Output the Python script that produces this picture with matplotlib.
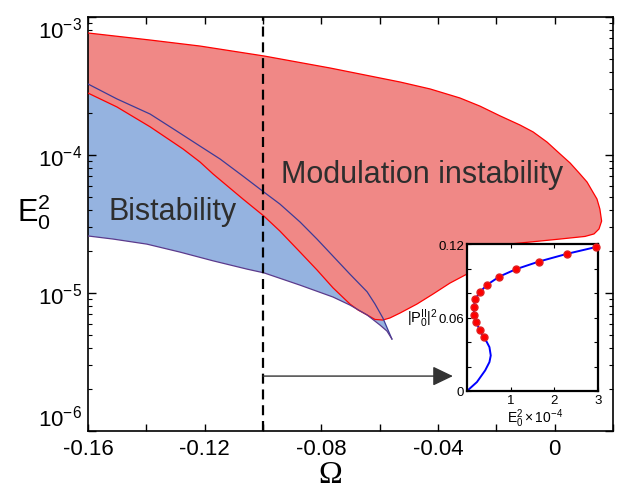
import numpy as np
import matplotlib
matplotlib.use("Agg")
import matplotlib.pyplot as plt
from matplotlib.ticker import MultipleLocator, FixedLocator

plt.rcParams["font.family"] = ["Liberation Sans", "DejaVu Sans"]
plt.rcParams["mathtext.fontset"] = "custom"
plt.rcParams["mathtext.rm"] = "Liberation Sans"
plt.rcParams["mathtext.it"] = "Liberation Sans:italic"
plt.rcParams["mathtext.bf"] = "Liberation Sans:bold"

# -----------------------------
# Data
# -----------------------------
# modulation instability region: upper edge, left to right, round the tip
mi_top_omega = [-0.16, -0.1387, -0.1216, -0.0997, -0.0770, -0.0530, -0.0427, -0.0325,
                -0.0256, -0.0187, -0.0119, -0.0074, -0.0026, 0.0018, 0.0053, 0.0087,
                0.0111, 0.0131, 0.0145, 0.0155, 0.0161, 0.0152, 0.0135, 0.0104]
mi_top_e2 = [7.66e-4, 6.81e-4, 6.16e-4, 5.22e-4, 4.27e-4, 3.38e-4, 3.01e-4, 2.59e-4,
             2.26e-4, 1.92e-4, 1.65e-4, 1.47e-4, 1.24e-4, 1.02e-4, 8.75e-5, 7.28e-5,
             6.37e-5, 5.39e-5, 4.80e-5, 4.06e-5, 3.32e-5, 2.91e-5, 2.68e-5, 2.57e-5]
# lower edge, right to left, down to the bump and up the inner red line
mi_low_omega = [0.0018, -0.0085, -0.0187, -0.0222, -0.0263, -0.0301, -0.0359, -0.0417,
                -0.0472, -0.0530, -0.0565, -0.0589, -0.0616, -0.0643, -0.0674, -0.0702,
                -0.0760, -0.0815, -0.0873, -0.0942, -0.0997, -0.1069, -0.1171, -0.1216,
                -0.1274, -0.1387, -0.1501, -0.16]
mi_low_e2 = [2.46e-5, 2.34e-5, 2.23e-5, 1.95e-5, 1.62e-5, 1.37e-5, 1.18e-5, 9.83e-6,
             8.32e-6, 7.16e-6, 6.59e-6, 6.37e-6, 6.43e-6, 6.93e-6, 7.53e-6, 8.32e-6,
             1.09e-5, 1.47e-5, 1.98e-5, 2.81e-5, 3.61e-5, 4.80e-5, 7.28e-5, 8.90e-5,
             1.105e-4, 1.60e-4, 2.23e-4, 2.81e-4]

# bistability region
bi_up_omega = [-0.16, -0.1501, -0.1387, -0.1302, -0.1216, -0.1147, -0.1069, -0.0997,
               -0.0942, -0.0873, -0.0815, -0.0760, -0.0702, -0.0643, -0.0616, -0.0589,
               -0.0558]
bi_up_e2 = [3.27e-4, 2.55e-4, 1.98e-4, 1.52e-4, 1.16e-4, 9.35e-5, 7.04e-5, 5.39e-5,
            4.41e-5, 3.27e-5, 2.46e-5, 1.85e-5, 1.37e-5, 1.02e-5, 8.32e-6, 6.59e-6,
            4.64e-6]
bi_low_omega = [-0.16, -0.1514, -0.1398, -0.1285, -0.1171, -0.1055, -0.0997, -0.0873,
                -0.0760, -0.0702, -0.0643, -0.0599, -0.0575, -0.0558]
bi_low_e2 = [2.59e-5, 2.46e-5, 2.26e-5, 1.98e-5, 1.71e-5, 1.49e-5, 1.40e-5, 1.14e-5,
             9.35e-6, 8.18e-6, 6.93e-6, 5.86e-6, 5.30e-6, 4.64e-6]

OMEGA_CUT = -0.10
ARROW_E2 = 2.5e-6
ARROW_END = -0.0349

# inset: |P0|^2 against E0^2 (x 1e-4)
inset_e2 = [0.0, 0.227, 0.416, 0.514, 0.544, 0.514, 0.453, 0.378, 0.287, 0.211, 0.166,
            0.151, 0.189, 0.287, 0.469, 0.741, 1.119, 1.640, 2.283, 2.963, 3.0]
inset_p2 = [0.0, 0.0073, 0.0168, 0.0236, 0.029, 0.0358, 0.040, 0.044, 0.050, 0.0562,
            0.0622, 0.0684, 0.0747, 0.0806, 0.0869, 0.0934, 0.0994, 0.1056, 0.1119,
            0.1176, 0.1178]
dots_e2 = [0.378, 0.287, 0.211, 0.166, 0.151, 0.189, 0.287, 0.469, 0.741, 1.119,
           1.640, 2.283, 2.963]
dots_p2 = [0.044, 0.050, 0.0562, 0.0622, 0.0684, 0.0747, 0.0806, 0.0869, 0.0934,
           0.0994, 0.1056, 0.1119, 0.1176]

RED_FILL = "#f08886"
BLUE_FILL = "#95b3e0"

# -----------------------------
# Main axes
# -----------------------------
fig = plt.figure(figsize=(6.18, 4.89), dpi=100)
ax = fig.add_axes([88 / 618, 1 - 432 / 489, 525 / 618, 414 / 489])

bi_x = bi_up_omega + bi_low_omega[::-1]
bi_y = bi_up_e2 + bi_low_e2[::-1]
ax.fill(bi_x, bi_y, color=BLUE_FILL, lw=0, zorder=1)

mi_x = mi_top_omega + mi_low_omega
mi_y = mi_top_e2 + mi_low_e2
ax.fill(mi_x, mi_y, color=RED_FILL, lw=0, zorder=2)
ax.plot(mi_x, mi_y, color="red", lw=0.9, zorder=3)

ax.plot(bi_up_omega, bi_up_e2, color="#3b3b98", lw=0.9, zorder=4)
ax.plot(bi_low_omega, bi_low_e2, color="#5b3a8c", lw=0.9, zorder=4)

ax.axvline(OMEGA_CUT, color="black", lw=1.6, ls=(0, (4.5, 2.6)), zorder=5)
ax.annotate("", xy=(ARROW_END, ARROW_E2), xytext=(OMEGA_CUT, ARROW_E2),
            arrowprops=dict(arrowstyle="-|>,head_length=1.25,head_width=0.6",
                            mutation_scale=10, color="#333333", lw=1.0,
                            shrinkA=0, shrinkB=0), zorder=6)

ax.text(-0.0455, 7.28e-5, "Modulation instability", fontsize=22, color="#2e2e2e",
        ha="center", va="center", zorder=6)
ax.text(-0.1309, 3.93e-5, "Bistability", fontsize=22, color="#2e2e2e",
        ha="center", va="center", zorder=6)

ax.set_yscale("log")
ax.set_xlim(-0.16, 0.02)
ax.set_ylim(1e-6, 1e-3)
ax.xaxis.set_major_locator(FixedLocator([-0.16, -0.12, -0.08, -0.04, 0.0]))
ax.xaxis.set_minor_locator(MultipleLocator(0.02))
ax.set_xticklabels(["-0.16", "-0.12", "-0.08", "-0.04", "0"])
ax.yaxis.set_major_locator(FixedLocator([1e-6, 1e-5, 1e-4, 1e-3]))
ax.set_yticklabels([r"$10^{-6}$", r"$10^{-5}$", r"$10^{-4}$", r"$10^{-3}$"])
ax.tick_params(which="both", direction="in", top=True, right=True, labelsize=16)
ax.tick_params(axis="x", which="both", length=5, width=1.0, pad=5)
ax.tick_params(axis="y", which="major", length=6, width=1.0, pad=4)
ax.tick_params(axis="y", which="minor", length=3, width=0.8)
ytl = ax.get_yticklabels()
ytl[0].set_va("bottom")
ytl[3].set_va("top")
for sp in ax.spines.values():
    sp.set_linewidth(1.2)

fig.text(330 / 618, 1 - 476 / 489, "Ω", fontsize=23, family="Liberation Serif",
         ha="center", va="center")
fig.text(34 / 618, 1 - 212 / 489, r"$\mathrm{E}_0^2$", fontsize=22,
         ha="center", va="center")

# -----------------------------
# Inset
# -----------------------------
ins = fig.add_axes([467 / 618, 1 - 392 / 489, 131 / 618, 147 / 489])
ins.plot(inset_e2, inset_p2, color="blue", lw=1.4, zorder=2)
ins.plot(dots_e2, dots_p2, "o", color="red", ms=5, mec="#e02020", zorder=3,
         clip_on=False)
ins.set_xlim(0, 3)
ins.set_ylim(0, 0.12)
ins.set_xticks([1, 2, 3])
ins.set_yticks([0, 0.06, 0.12])
ins.set_yticklabels(["0", "0.06", "0.12"])
ins.yaxis.set_minor_locator(MultipleLocator(0.02))
ins.tick_params(which="both", direction="in", top=True, right=True, labelsize=9.5,
                length=3, width=0.8, pad=2)
for sp in ins.spines.values():
    sp.set_linewidth(1.6)
ins.text(-0.225, 0.5, r"$|\mathrm{P}_0^{\mathrm{II}}|^2$", transform=ins.transAxes,
         fontsize=10.5, ha="right", va="center")
ins.text(0.52, -0.18, r"$\mathrm{E}_0^2\times10^{-4}$", transform=ins.transAxes,
         fontsize=10, ha="center", va="center")

fig.savefig("out.png", dpi=100)
